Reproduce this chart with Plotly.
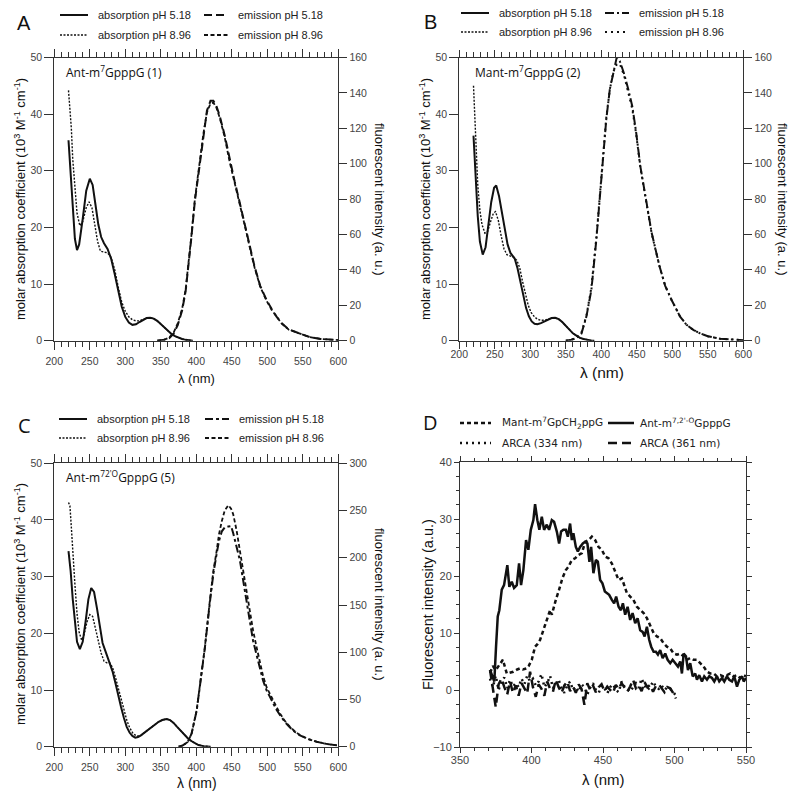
import plotly.graph_objects as go

# ---------------- data ----------------
# Panel A : Ant-m7GpppG (1)
A_abs518_wl = [220, 223, 226, 229, 232, 235, 240, 245, 250, 254, 258, 262, 266, 270, 275, 280, 285, 290, 295, 300,
               305, 310, 315, 320, 325, 330, 335, 340, 345, 350, 355, 360, 365, 370, 375, 380, 385, 390, 395]
A_abs518 = [35.4, 29, 22.5, 18, 16.0, 17.0, 21.5, 26.5, 28.6, 27.5, 24, 20.5, 18.3, 17.2, 16.2, 14.5, 11.8, 8.8, 6.0, 4.2,
            3.2, 2.8, 2.9, 3.3, 3.7, 4.0, 4.05, 3.9, 3.5, 2.9, 2.3, 1.7, 1.2, 0.8, 0.5, 0.3, 0.15, 0.05, 0]
A_abs896_wl = [220, 222, 224, 226, 229, 232, 236, 240, 245, 249, 253, 257, 261, 265, 270, 275, 280, 285, 290, 295,
               300, 305, 310, 315, 320, 325, 330, 335, 340, 345, 350, 355, 360, 365, 370, 375, 380, 385, 390, 395]
A_abs896 = [44.2, 41, 37.5, 32, 26.5, 22.5, 20.3, 21, 23.5, 24.5, 23.5, 20.5, 17.5, 15.8, 15.6, 15.5, 14.7, 12.6, 9.5, 6.8,
            5.2, 4.2, 3.7, 3.5, 3.5, 3.8, 4.0, 4.05, 3.9, 3.5, 2.9, 2.3, 1.7, 1.2, 0.8, 0.5, 0.3, 0.15, 0.05, 0]
A_em_wl = [345, 355, 362, 368, 374, 380, 385, 389, 393, 398, 404, 410, 415, 420, 424, 428, 433, 440, 447, 454,
           460, 465, 471, 476, 482, 490, 499, 506, 513, 520, 530, 546, 560, 575, 590, 600]
A_em518 = [0, 0.5, 1.5, 4, 9, 17, 28, 42, 58, 79, 98, 117, 130, 135.5, 135.5, 133, 127, 116, 102, 90,
           80, 71, 61, 52, 42, 31, 23, 18, 13.6, 10, 6.5, 4, 2, 1, 0.5, 0.3]
A_em896 = [0, 0.6, 1.8, 4.5, 10, 18, 29, 43, 59, 80, 99, 117, 129, 134, 134.5, 132, 126, 115, 101, 89.5,
           79.5, 70.5, 60.5, 51.5, 41.5, 30.5, 22.5, 17.5, 13.3, 9.8, 6.3, 3.9, 2, 1, 0.5, 0.3]

# Panel B : Mant-m7GpppG (2)
B_abs518_wl = [220, 223, 226, 229, 233, 237, 241, 245, 249, 252, 256, 260, 264, 268, 272, 278, 282, 286, 290, 294,
               298, 302, 306, 310, 315, 320, 325, 330, 335, 340, 345, 350, 355, 360, 365, 370, 375, 380, 385, 390]
B_abs518 = [36.2, 29, 22, 17.5, 15.2, 16.5, 20.5, 24.5, 27.0, 27.4, 25.5, 22.5, 19.5, 17, 15.5, 14.5, 12.8, 10.5, 8, 5.8,
            4.3, 3.4, 3.0, 2.9, 3.1, 3.4, 3.7, 4.0, 4.05, 3.8, 3.3, 2.6, 1.9, 1.3, 0.9, 0.5, 0.3, 0.15, 0.05, 0]
B_abs896_wl = [220, 222, 224, 226, 229, 232, 236, 240, 244, 248, 251, 255, 259, 263, 267, 272, 277, 281, 285, 289,
               293, 297, 301, 306, 310, 315, 320, 325, 330, 335, 340, 345, 350, 355, 360, 365, 370, 375, 380, 385, 390]
B_abs896 = [45, 40, 33, 27.5, 23, 20.5, 19.0, 19.3, 21, 22.5, 22.8, 21.2, 18.5, 16.2, 15.2, 14.9, 14.7, 14.2, 12.9, 10.5,
            8.3, 6.3, 5.0, 4.2, 3.8, 3.6, 3.6, 3.8, 4.0, 4.05, 3.8, 3.3, 2.6, 1.9, 1.3, 0.9, 0.5, 0.3, 0.15, 0.05, 0]
B_em_wl = [350, 358, 365, 372, 379, 386, 393, 398, 403, 407, 412, 417, 421.7, 426, 432, 438, 443.6, 449, 455, 463,
           471, 482, 490, 499, 511, 520, 530, 539, 550, 567, 585, 600]
B_em518 = [0, 0.5, 1.5, 4, 13.6, 28.6, 57, 83, 108, 125, 142, 151.4, 160, 158, 151, 142, 132.5, 118, 98.5, 79.7,
           60.8, 42, 31, 23, 13.6, 9, 6, 4.2, 2.5, 1.1, 0.5, 0.3]
B_em896 = [0, 0.6, 1.8, 4.5, 14, 30, 58, 84, 109, 126, 142, 152, 156, 156.5, 150, 141, 131, 117, 98, 79,
           60.5, 42, 31, 23, 13.6, 9, 6, 4.2, 2.5, 1.1, 0.5, 0.3]

# Panel C : Ant-m7,2'O GpppG (5)
C_abs518_wl = [220, 223, 226, 229, 232, 236, 240, 244, 248, 252, 256, 260, 264, 268, 273, 278, 282, 286, 290, 294,
               298, 302, 306, 310, 314, 318, 322, 327, 332, 337, 342, 347, 352, 358, 363, 368, 373, 378, 383, 388,
               393, 398, 403, 410, 420]
C_abs518 = [34.5, 31, 26, 21.5, 18.5, 17.2, 18.5, 22, 26, 28, 27.3, 24.5, 21, 18.3, 16.5, 14.7, 13.3, 11.3, 9, 7,
            5.1, 3.5, 2.5, 1.9, 1.6, 1.7, 2.0, 2.5, 3.0, 3.4, 3.9, 4.4, 4.7, 4.9, 4.7, 4.2, 3.5, 2.8, 2.1, 1.5,
            1.0, 0.6, 0.3, 0.1, 0]
C_abs896_wl = [220, 222, 224, 226, 229, 232, 235, 238.5, 242, 246, 250, 254, 258, 262, 266, 270, 274, 278, 282, 286,
               290, 294, 298, 302, 306, 311, 316, 321, 327, 332, 337, 342, 347, 352, 358, 363, 368, 373, 378, 383,
               388, 393, 398, 403, 410, 420]
C_abs896 = [43.1, 42.5, 38.7, 34, 28.7, 23.5, 20.2, 18.8, 19.8, 22, 23.3, 23.0, 20.8, 18.5, 16.5, 15.1, 14.8, 14.8, 14.0, 12.3,
            10.3, 8.2, 6.3, 4.7, 3.4, 2.3, 1.9, 1.9, 2.5, 3.0, 3.4, 3.9, 4.4, 4.7, 4.9, 4.7, 4.2, 3.5, 2.8, 2.1,
            1.5, 1.0, 0.6, 0.3, 0.1, 0]
C_em_wl = [375, 380, 388, 393.4, 400.5, 405, 412, 419, 424, 428.6, 432, 436, 440, 445, 449, 452, 457, 461.5, 466, 471,
           476, 480, 485, 489.7, 494, 499, 504, 508.5, 513, 518, 525, 532, 539, 546, 558, 569.5, 583, 598]
C_em518 = [0, 1, 5, 14, 38, 62, 104, 152, 183, 204, 218, 228, 232, 233, 233.5, 226, 212, 197, 176, 154.5,
           132, 112, 97, 82.5, 70, 59.7, 52, 45.6, 39, 33.4, 26, 20.4, 15.5, 12, 8, 5.3, 3, 1.4]
C_em896 = [0, 1, 5, 14, 38.6, 63, 105, 154, 186, 207, 225, 239, 250, 255.6, 252, 246, 228, 207, 186, 165,
           142, 123, 105, 88, 75, 63, 55, 49, 42, 35, 27, 21, 16, 12.3, 8, 5.3, 3, 1.4]

# Panel D : fluorescence
D_ant_wl = [371, 372.9, 374, 375.2, 376.4, 377.5, 379.2, 380.8, 382.2, 383.1, 384.5, 386.2, 387.8, 389.7, 391.3, 392.7,
            394.3, 396.2, 397.8, 399.5, 401.3, 402.5, 404.1, 405.5, 407.2, 408.8, 410.7, 412.3, 414.2, 415.8, 417.7,
            419.3, 420.7, 422.3, 424, 425.4, 427, 428.2, 429.3, 431, 432.4, 434, 435.9, 437.5, 439.1, 440.5, 441.7,
            443.3, 445, 446.4, 448, 449.6, 451.3, 452.7, 454.3, 456.2, 457.8, 459.2, 460.9, 462.5, 463.9, 465.5, 467.2,
            469, 470.7, 472.5, 474.2, 476, 477.7, 479.1, 480.7, 482.3, 483.7, 485.4, 487, 488.4, 490, 491.7, 493.5,
            495.2, 497, 498.7, 500.5, 502.4, 504, 505.2, 506.4, 508, 509.4, 511, 512.7, 514.5, 515.7, 517.3, 519.2,
            520.8, 522.7, 524.3, 526.2, 527.8, 529.7, 531.3, 533.2, 534.8, 536.7, 538.3, 540.2, 541.8, 543.7, 545.3,
            547.2, 548.4, 550]
D_ant = [3.5, 2.4, 1.5, 7.6, 12.9, 14, 17.6, 18.4, 20.8, 21.9, 18.1, 19, 17.9, 18.4, 22.2, 18.4, 21, 26.3, 24.6, 28.1,
         29.8, 32.6, 29.8, 28.1, 30.4, 28.1, 29, 28.1, 29.8, 29.5, 27.8, 25.7, 27.8, 28.1, 28.1, 26.9, 29.2, 26.3, 27.5, 25.1,
         24.3, 25.1, 25.7, 26, 25.7, 22.5, 25.1, 20.5, 22.8, 22.5, 19.3, 18.7, 17.3, 17, 16.7, 15.8, 15.2, 16.4, 14.6, 14,
         15.2, 13.2, 14.6, 12.3, 13.5, 11.7, 12.6, 10.5, 10.2, 9.4, 11.1, 8.8, 7.6, 6.7, 6.7, 6.2, 7, 5.6, 6.4, 5.3,
         4.7, 5.3, 4.7, 4.1, 5, 2.9, 6.4, 5.9, 3.5, 4.7, 2.4, 2.9, 1.8, 2.6, 1.5, 2.4, 1.8, 2.4, 2.1, 1.5,
         2.4, 1.5, 2.1, 1.5, 2.4, 1.8, 1.5, 2.4, 0.6, 1.8, 2.4, 1.5, 2.1]
D_mant_wl = [371, 373, 375, 378, 380, 382.7, 385, 387.3, 390, 392, 394, 396.6, 398, 400.2, 402.5, 404, 406, 408.3, 410.7,
             413, 414.2, 415.3, 417, 419.3, 421.6, 423.9, 425.8, 428.2, 430.5, 432.8, 435.2, 437.5, 439.9, 442.2, 444.5,
             446.9, 449.2, 451.5, 453.9, 456.2, 458.5, 460.9, 463.2, 464.4, 466.7, 469, 471.3, 473.7, 476, 478.4, 480.7,
             483, 485.4, 487.7, 490, 492.4, 494.7, 497, 499.4, 501.7, 504, 506.4, 508.7, 511, 513.4, 515.7, 518, 520.4,
             522.7, 525, 527.4, 529.7, 532, 534.3, 536.7, 539, 541.4, 543.7, 546, 548.4, 550]
D_mant = [3.0, 4.2, 3.5, 4.7, 5.3, 2.9, 3.0, 3.2, 3.6, 3.8, 3.6, 3.8, 4.2, 5.3, 7.6, 8.0, 8.8, 10.5, 12.3, 14,
          13.2, 14.3, 15.8, 17.6, 19.6, 21, 21.6, 22.8, 23.1, 23.7, 24, 26, 26.3, 26.9, 26.3, 25.1, 24.6, 23.4, 23.1, 22.2,
          20.8, 19.3, 19.6, 18.7, 17, 16.4, 15.8, 14.6, 14, 13.5, 12.6, 11.4, 10, 9.4, 9.1, 8.2, 7.6, 7.3, 6.4, 6.2,
          6.4, 5.9, 5.3, 5.6, 5.3, 5.3, 4.7, 4.1, 3.2, 2.9, 2.9, 2.4, 2.6, 2.4, 2.6, 2.9, 2.4, 2.6, 2.1, 2.6, 2.4]
D_arca_wl = [371, 373, 375, 377, 379, 381, 383, 385, 387, 389, 391, 393, 395, 397, 399, 401, 403, 405, 407, 409,
             411, 413, 415, 417, 419, 421, 423, 425, 427, 429, 431, 433, 435, 437, 439, 441, 443, 445, 447, 449,
             451, 453, 455, 457, 459, 461, 463, 465, 467, 469, 471, 473, 475, 477, 479, 481, 483, 485, 487, 489,
             491, 493, 495, 497, 499, 501]
D_arca334 = [2.0, 0.5, 2.5, 0.0, 1.5, 2.2, 0.3, 1.8, 0.6, 1.2, 0.5, 2.0, 1.0, 2.5, 1.5, 2.0, 0.8, 1.5, 2.8, 0.5,
             1.2, 2.5, 0.3, 1.0, 1.8, 0.2, -0.5, 0.8, 1.5, 0.0, 0.6, -0.3, 1.0, 0.5, -0.8, 0.4, 1.2, 0.0, -0.5, 0.8,
             0.3, -0.6, 0.5, 1.0, 0.0, -0.4, 1.5, 0.6, 0.2, -0.3, 0.5, 1.2, 0.4, 2.0, 0.8, 0.0, 0.5, 1.5, 0.6, 0.2,
             0.8, 0.0, 0.5, 0.2, -0.3, -1.0]
D_arca361 = [3.5, 0.5, -3.0, 1.0, 2.0, 0.5, -0.8, 1.5, -0.5, 0.8, -1.0, 1.2, 0.3, -0.6, 3.2, 0.5, -1.2, 1.0, 0.2, -1.0,
             1.5, 0.2, -0.3, 1.8, 0.5, -0.5, 0.8, 1.5, -0.2, 0.6, -0.5, 1.0, 0.2, -2.6, 1.2, 0.0, 0.8, -0.4, 0.5, 1.0,
             -0.2, 0.6, 0.0, -0.5, 0.9, 0.2, 1.2, 0.4, -0.3, 0.6, 1.8, 0.3, 0.8, -0.2, 1.4, 0.5, 0.9, -0.3, 0.7, 1.0,
             0.2, -0.4, 0.5, 0.3, -0.5, -1.5]

LEG_ABS = ["absorption pH 5.18", "absorption pH 8.96", "emission pH 5.18", "emission pH 8.96"]
LEG_D = ["Mant-m<sup>7</sup>GpCH<sub>2</sub>ppG", "ARCA (334 nm)", "Ant-m<sup>7,2'-O</sup>GpppG", "ARCA (361 nm)"]

# ---------------- layout helpers ----------------
W, H = 800, 802
def px(x): return x / W
def py(y): return 1 - y / H

INK = '#111111'
AX = '#333333'
ARIAL = 'Arial, Liberation Sans, sans-serif'
TICKF = dict(family=ARIAL, size=10.5, color='#444444')

fig = go.Figure()
layout = dict(width=W, height=H, margin=dict(l=0, r=0, t=0, b=0, autoexpand=False),
              paper_bgcolor='white', plot_bgcolor='white', showlegend=False, annotations=[], shapes=[])

def ak(p, i): return p + 'axis' + ('' if i == 1 else str(i))
def ar(p, i): return p + ('' if i == 1 else str(i))

def ann(text, x, y, size, family=ARIAL, angle=0, xanchor='center', color=INK):
    layout['annotations'].append(dict(text=text, x=px(x), y=py(y), xref='paper', yref='paper',
                                      showarrow=False, textangle=angle, xanchor=xanchor, yanchor='middle',
                                      font=dict(family=family, size=size, color=color)))

def legend_entry(text, x_text, y_row, line_style, sample_from, sample_to, size, family):
    """Legend key drawn as a short line sample plus a label."""
    layout['shapes'].append(dict(type='line', xref='paper', yref='paper',
                                 x0=px(sample_from), x1=px(sample_to), y0=py(y_row), y1=py(y_row),
                                 line=line_style))
    ann(text, x_text, y_row, size, family=family, xanchor='left', color='#222222')

def make_axes(b, x0, x1, y0, y1, xr, xd, xminor, yr, yd, yminor, y2r, y2d, standoff, tickf,
              xlen, xmlen, ylen, ymlen, y2len):
    """x_b bottom (ticks mirrored on top), y_b left, y_(b+1) right overlay (if y2r given)."""
    common = dict(showgrid=False, zeroline=False, showline=True, linecolor=AX, linewidth=1,
                  tickcolor=AX, tickwidth=1, tickfont=tickf)
    layout[ak('x', b)] = dict(common, domain=[px(x0), px(x1)], range=xr, dtick=xd, anchor=ar('y', b),
                              ticks='outside', ticklen=xlen, ticklabelstandoff=standoff, mirror='ticks',
                              minor=dict(dtick=xminor, ticks='outside', ticklen=xmlen))
    ya = dict(common, domain=[py(y1), py(y0)], range=yr, dtick=yd, anchor=ar('x', b),
              ticks='outside', ticklen=ylen)
    if yminor:
        ya['minor'] = dict(dtick=yminor, ticks='outside', ticklen=ymlen)
    if y2r is None:
        ya['mirror'] = 'ticks'
    layout[ak('y', b)] = ya
    if y2r is not None:
        layout[ak('y', b + 1)] = dict(common, range=y2r, dtick=y2d, overlaying=ar('y', b), side='right',
                                      anchor=ar('x', b), ticks='outside', ticklen=y2len)

# ---------------- panels A-C ----------------
panels = [
    dict(b=1, x0=54.3, x1=338.3, y0=57.5, y1=340.7, y2r=[0, 160], y2d=20,
         data=[(A_abs518_wl, A_abs518), (A_abs896_wl, A_abs896), (A_em_wl, A_em518), (A_em_wl, A_em896)],
         em_dash=['8px,4px', '4px,2.5px'], em_w=[2, 1.8],
         leg_x=[96, 236], leg_y=[15, 35], letter=('A', 24, 23), label=("Ant-m<sup>7</sup>GpppG (1)", 64, 72),
         ytitle_x=(20, 380), ytitle_y=199, xt=(196, 378, 13), standoff=3, xlen=8),
    dict(b=3, x0=459.3, x1=743.3, y0=57.5, y1=340.7, y2r=[0, 160], y2d=20,
         data=[(B_abs518_wl, B_abs518), (B_abs896_wl, B_abs896), (B_em_wl, B_em518), (B_em_wl, B_em896)],
         em_dash=['9px,3px,2px,3px', '2px,4px'], em_w=[2, 2],
         leg_x=[497, 637], leg_y=[13, 32], letter=('B', 431, 22), label=("Mant-m<sup>7</sup>GpppG (2)", 473, 72),
         ytitle_x=(425, 783), ytitle_y=199, xt=(602, 372, 15.5), standoff=-3, xlen=7),
    dict(b=5, x0=54.3, x1=338.3, y0=463.3, y1=746.7, y2r=[0, 300], y2d=50,
         data=[(C_abs518_wl, C_abs518), (C_abs896_wl, C_abs896), (C_em_wl, C_em518), (C_em_wl, C_em896)],
         em_dash=['8px,3px,3px,3px', '4px,2.5px'], em_w=[2, 1.8],
         leg_x=[95, 237], leg_y=[419, 438], letter=('C', 24, 425), label=("Ant-m<sup>72'O</sup>GpppG (5)", 64, 477),
         ytitle_x=(20, 380), ytitle_y=604, xt=(197, 783, 14), standoff=3, xlen=8),
]

for P in panels:
    b = P['b']
    make_axes(b, P['x0'], P['x1'], P['y0'], P['y1'], [200, 600], 50, 10, [0, 50], 10, None,
              P['y2r'], P['y2d'], P['standoff'], TICKF, P['xlen'], 5, 9, 0, 8)
    styles = [dict(color=INK, width=2), dict(color=INK, width=1.4, dash='2px,1.5px'),
              dict(color=INK, width=P['em_w'][0], dash=P['em_dash'][0]),
              dict(color=INK, width=P['em_w'][1], dash=P['em_dash'][1])]
    pos = [(P['leg_x'][0], P['leg_y'][0], 36), (P['leg_x'][0], P['leg_y'][1], 36),
           (P['leg_x'][1], P['leg_y'][0], 32), (P['leg_x'][1], P['leg_y'][1], 32)]
    for k, ((xs, ys), st) in enumerate(zip(P['data'], styles)):
        fig.add_trace(go.Scatter(x=xs, y=ys, mode='lines', line=st, name=LEG_ABS[k],
                                 xaxis=ar('x', b), yaxis=ar('y', b if k < 2 else b + 1)))
        xt_, yr_, off = pos[k]
        legend_entry(LEG_ABS[k], xt_, yr_, st, xt_ - off, xt_ - 8, 11, ARIAL)
    L = P['letter']
    ann(L[0], L[1], L[2], 20, family=('Arial, Liberation Sans' if b < 5 else 'Open Sans'))
    lab = P['label']
    ann(lab[0], lab[1], lab[2], 12, family='Open Sans', xanchor='left')
    ann("molar absorption coefficient (10<sup>3</sup> M<sup>-1</sup> cm<sup>-1</sup>)",
        P['ytitle_x'][0], P['ytitle_y'], 13, angle=-90)
    ann("fluorescent intensity (a. u.)", P['ytitle_x'][1], P['ytitle_y'], 13, angle=90)
    ann("λ (nm)", P['xt'][0], P['xt'][1], P['xt'][2])

# ---------------- panel D ----------------
TICKFD = dict(family=ARIAL, size=11, color='#444444')
make_axes(7, 460, 746, 462, 747, [350, 550], 50, 10, [-10, 40], 10, 2.5, None, None, -2, TICKFD,
          5, 3, 5, 3, 5)
d_series = [(D_mant_wl, D_mant, dict(color=INK, width=2.5, dash='4px,3px'), (500, 423, 460, 491)),
            (D_arca_wl, D_arca334, dict(color=INK, width=2.5, dash='2px,4px'), (500, 443, 460, 491)),
            (D_ant_wl, D_ant, dict(color=INK, width=2.5), (638, 423, 608, 634)),
            (D_arca_wl, D_arca361, dict(color=INK, width=2.5, dash='9px,5px'), (638, 443, 608, 634))]
for k, (xs, ys, st, pos) in enumerate(d_series):
    fig.add_trace(go.Scatter(x=xs, y=ys, mode='lines', line=st, name=LEG_D[k], xaxis='x7', yaxis='y7'))
    legend_entry(LEG_D[k], pos[0], pos[1], st, pos[2], pos[3], 10.5, 'DejaVu Sans')
ann('D', 431, 423, 20, family='Open Sans')
ann("Fluorescent intensity (a.u.)", 428, 605, 14.5, angle=-90)
ann("λ (nm)", 603, 779, 15)

fig.update_layout(**layout)
fig.write_html("out.html", config={'displayModeBar': False},
               post_script="document.body.style.margin='0';")
